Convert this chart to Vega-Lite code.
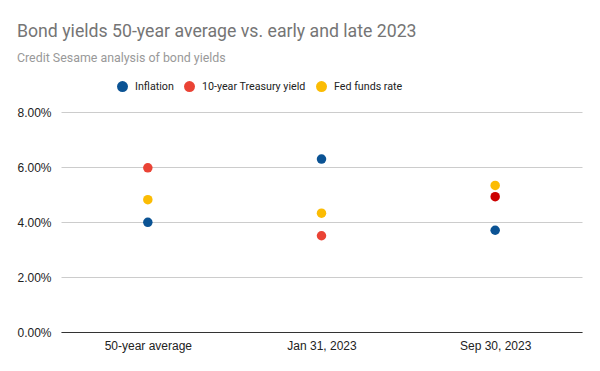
{
  "$schema": "https://vega.github.io/schema/vega-lite/v6.json",
  "width": 600,
  "height": 371,
  "autosize": {"type": "fit", "contains": "padding"},
  "padding": {"left": 16, "right": 18, "top": 22, "bottom": 20},
  "background": "white",
  "title": {
    "text": "Bond yields 50-year average vs. early and late 2023",
    "subtitle": "Credit Sesame analysis of bond yields",
    "anchor": "start",
    "frame": "bounds",
    "font": "Roboto",
    "fontSize": 17.7,
    "fontWeight": "normal",
    "color": "#757575",
    "subtitleFont": "Roboto",
    "subtitleFontSize": 12.4,
    "subtitleColor": "#999999",
    "subtitlePadding": 11,
    "offset": 42
  },
  "data": {
    "values": [
      {"period": "50-year average", "series": "Inflation", "value": 0.0399},
      {"period": "50-year average", "series": "10-year Treasury yield", "value": 0.0597},
      {"period": "50-year average", "series": "Fed funds rate", "value": 0.0481},
      {"period": "Jan 31, 2023", "series": "Inflation", "value": 0.0629},
      {"period": "Jan 31, 2023", "series": "10-year Treasury yield", "value": 0.0350},
      {"period": "Jan 31, 2023", "series": "Fed funds rate", "value": 0.0432},
      {"period": "Sep 30, 2023", "series": "Inflation", "value": 0.0370},
      {"period": "Sep 30, 2023", "series": "10-year Treasury yield", "value": 0.0492},
      {"period": "Sep 30, 2023", "series": "Fed funds rate", "value": 0.0533}
    ]
  },
  "mark": {"type": "point", "filled": true, "opacity": 1, "size": 90},
  "encoding": {
    "x": {
      "field": "period",
      "type": "nominal",
      "sort": null,
      "scale": {"type": "point", "padding": 0.5},
      "axis": {
        "title": null,
        "labelAngle": 0,
        "ticks": false,
        "domainColor": "#333333",
        "labelFont": "Liberation Sans",
        "labelFontSize": 12,
        "labelColor": "#222222",
        "labelPadding": 8,
        "grid": false
      }
    },
    "y": {
      "field": "value",
      "type": "quantitative",
      "scale": {"domain": [0, 0.08]},
      "axis": {
        "title": null,
        "format": ".2%",
        "values": [0, 0.02, 0.04, 0.06, 0.08],
        "domain": false,
        "ticks": false,
        "gridColor": "#cccccc",
        "labelFont": "Liberation Sans",
        "labelFontSize": 12,
        "labelColor": "#222222",
        "labelPadding": 10
      }
    },
    "color": {
      "condition": {
        "test": "datum.period === 'Sep 30, 2023' && datum.series === '10-year Treasury yield'",
        "value": "#cc0000"
      },
      "field": "series",
      "type": "nominal",
      "sort": ["Inflation", "10-year Treasury yield", "Fed funds rate"],
      "scale": {
        "domain": ["Inflation", "10-year Treasury yield", "Fed funds rate"],
        "range": ["#0b5394", "#ea4335", "#fbbc04"]
      },
      "legend": {
        "title": null,
        "orient": "none",
        "legendX": 55,
        "legendY": -32,
        "direction": "horizontal",
        "symbolType": "circle",
        "symbolSize": 120,
        "labelFont": "Roboto",
        "labelFontSize": 10.7,
        "labelColor": "#222222",
        "labelOffset": 6,
        "columnPadding": 9
      }
    }
  },
  "config": {
    "view": {"stroke": null}
  }
}
